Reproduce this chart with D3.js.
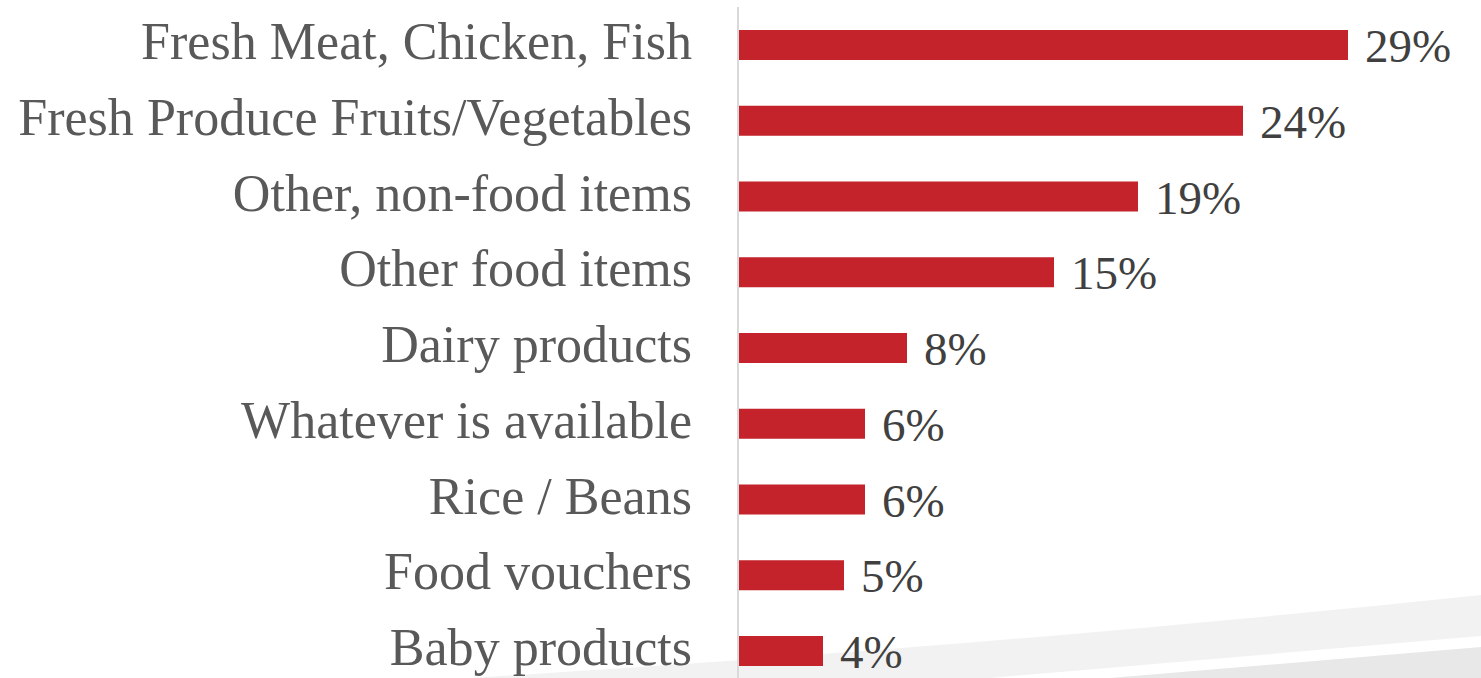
<!DOCTYPE html>
<html>
<head>
<meta charset="utf-8">
<script src="https://cdn.jsdelivr.net/npm/d3@7"></script>
<style>
  html, body { margin: 0; padding: 0; background: #ffffff; }
  svg { display: block; }
</style>
</head>
<body>
<svg id="chart" width="1481" height="678"></svg>
<script>
// What shoppers most want to receive (share of respondents)
const categories = [
  "Fresh Meat, Chicken, Fish",
  "Fresh Produce Fruits/Vegetables",
  "Other, non-food items",
  "Other food items",
  "Dairy products",
  "Whatever is available",
  "Rice / Beans",
  "Food vouchers",
  "Baby products"
];
const values = [29, 24, 19, 15, 8, 6, 6, 5, 4];
const valueLabels = ["29%", "24%", "19%", "15%", "8%", "6%", "6%", "5%", "4%"];

const W = 1481, H = 678;
const svg = d3.select("#chart");

// Decorative grey swoosh along the bottom-right corner
const deco = svg.append("g");
deco.append("path")
  .attr("d", "M470,678 C760,660 1100,635 1481,595 L1481,678 Z")
  .attr("fill", "#f2f2f2");
deco.append("path")
  .attr("d", "M990,678 L1481,636 L1481,678 Z")
  .attr("fill", "#ffffff");
deco.append("path")
  .attr("d", "M1110,678 L1481,647 L1481,678 Z")
  .attr("fill", "#e8e8e8");

const x0 = 739;
const x = d3.scaleLinear().domain([0, 29]).range([x0, 1348]);
const y = d3.scalePoint().domain(categories).range([45, 651]);
const barH = 30;

// Vertical category axis line
svg.append("line")
  .attr("x1", x0 - 1).attr("x2", x0 - 1)
  .attr("y1", 7).attr("y2", H)
  .attr("stroke", "#d9d9d9")
  .attr("stroke-width", 2);

// Bars
svg.append("g").selectAll("rect")
  .data(categories)
  .join("rect")
  .attr("x", x(0))
  .attr("y", d => y(d) - barH / 2)
  .attr("width", (d, i) => x(values[i]) - x(0))
  .attr("height", barH)
  .attr("fill", "#c4232b");

const fontFamily = "'Liberation Serif', 'Times New Roman', serif";

// Category labels, right aligned against the axis
const catG = svg.append("g");
const cats = catG.selectAll("text")
  .data(categories)
  .join("text")
  .attr("x", 692)
  .attr("y", d => y(d) + 14)
  .attr("text-anchor", "end")
  .attr("font-family", fontFamily)
  .attr("font-size", 44)
  .attr("fill", "#595959")
  .text(d => d);

// Fit the longest label into the available left margin
let maxW = 0;
cats.each(function () { maxW = Math.max(maxW, this.getComputedTextLength()); });
const fitSize = 44 * 674 / maxW;
cats.attr("font-size", fitSize);

// Value labels at the end of each bar
svg.append("g").selectAll("text")
  .data(categories)
  .join("text")
  .attr("x", (d, i) => x(values[i]) + 17)
  .attr("y", d => y(d) + 17)
  .attr("font-family", fontFamily)
  .attr("font-size", 47)
  .attr("fill", "#404040")
  .text((d, i) => valueLabels[i]);
</script>
</body>
</html>
